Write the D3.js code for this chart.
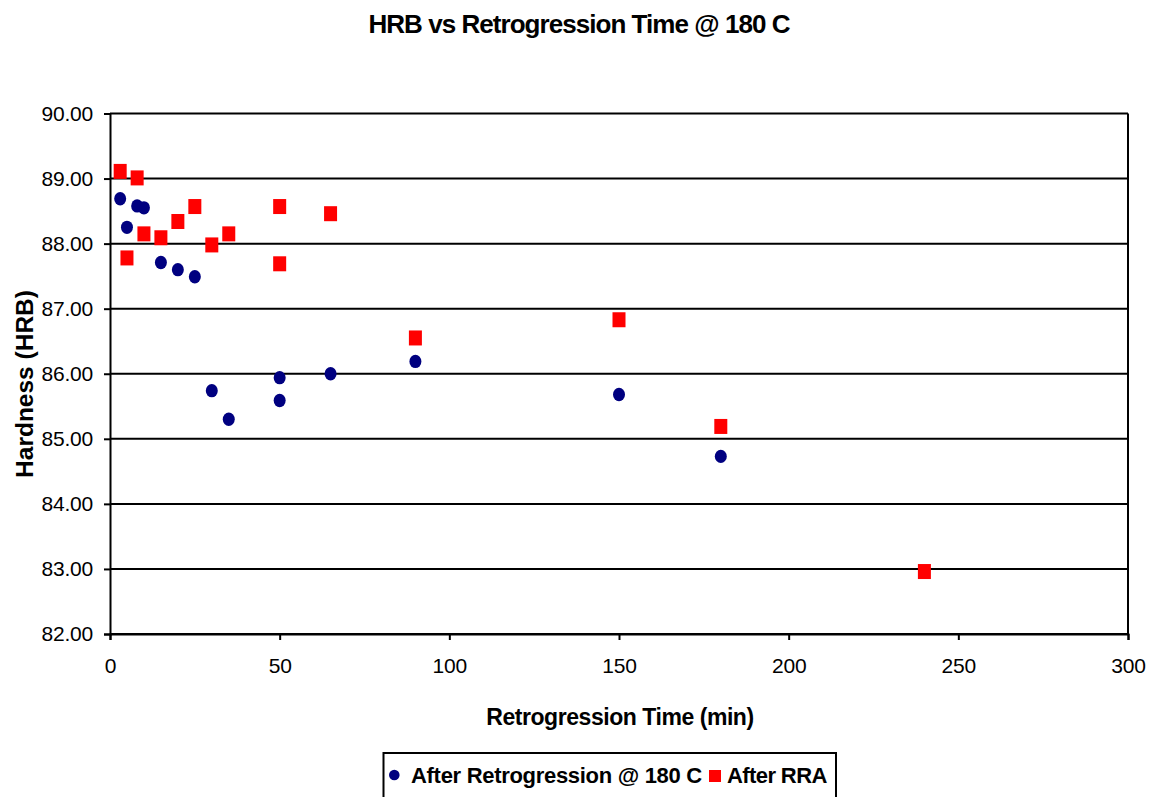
<!DOCTYPE html>
<html>
<head>
<meta charset="utf-8">
<script src="https://cdn.jsdelivr.net/npm/d3@7"></script>
<style>
  html, body { margin: 0; padding: 0; background: #fff; }
  svg { display: block; font-family: Arial, "Liberation Sans", sans-serif; }
</style>
</head>
<body>
<svg id="chart" width="1154" height="797"></svg>
<script>
// ---- data ----
const retroTime = [3, 5, 8, 10, 15, 20, 25, 30, 35, 50, 50, 65, 90, 150, 180];
const retroHRB  = [88.69, 88.25, 88.58, 88.55, 87.71, 87.60, 87.49, 85.74, 85.30, 85.94, 85.59, 86.00, 86.19, 85.68, 84.73];
const rraTime   = [3, 5, 8, 10, 15, 20, 25, 30, 35, 50, 50, 65, 90, 150, 180, 240];
const rraHRB    = [89.11, 87.78, 89.01, 88.15, 88.09, 88.34, 88.57, 87.98, 88.15, 88.57, 87.69, 88.46, 86.55, 86.83, 85.19, 82.96];
const xTicks = [0, 50, 100, 150, 200, 250, 300];
const yTicks = [82, 83, 84, 85, 86, 87, 88, 89, 90];
const seriesNames = ["After Retrogression @ 180 C", "After RRA"];
const titleText = "HRB vs Retrogression Time @ 180 C";
const xTitle = "Retrogression Time (min)";
const yTitle = "Hardness (HRB)";

const svg = d3.select("#chart");
const pLeft = 110, pRight = 1128, pTop = 113.5, pBottom = 634;

const x = d3.scaleLinear().domain([0, 300]).range([pLeft, pRight]);
const y = d3.scaleLinear().domain([82, 90]).range([pBottom, pTop]);

// gridlines
svg.append("g").selectAll("line").data(yTicks).join("line")
  .attr("x1", pLeft).attr("x2", pRight)
  .attr("y1", d => y(d)).attr("y2", d => y(d))
  .attr("stroke", "#000").attr("stroke-width", 2);

// right border
svg.append("line").attr("x1", pRight).attr("x2", pRight).attr("y1", pTop).attr("y2", pBottom)
  .attr("stroke", "#000").attr("stroke-width", 2);

// axes
const xAxis = svg.append("g").attr("transform", `translate(0,${pBottom})`)
  .call(d3.axisBottom(x).tickValues(xTicks).tickSize(6).tickPadding(18).tickFormat(d3.format("d")));
const yAxis = svg.append("g").attr("transform", `translate(${pLeft},0)`)
  .call(d3.axisLeft(y).tickValues(yTicks).tickSize(6).tickPadding(11).tickFormat(d3.format(".2f")));
[xAxis, yAxis].forEach(g => {
  g.select(".domain").attr("stroke", "#000").attr("stroke-width", 2);
  g.selectAll(".tick line").attr("stroke", "#000").attr("stroke-width", 2);
  g.selectAll(".tick text").attr("fill", "#000")
    .style("font-size", "21px").style("letter-spacing", "-0.2px")
    .style("font-family", "Arial, 'Liberation Sans', sans-serif");
});

// points
svg.append("g").selectAll("ellipse").data(retroTime.map((t, i) => [t, retroHRB[i]])).join("ellipse")
  .attr("cx", d => x(d[0])).attr("cy", d => y(d[1]))
  .attr("rx", 6).attr("ry", 6.7).attr("fill", "#000080");

svg.append("g").selectAll("rect").data(rraTime.map((t, i) => [t, rraHRB[i]])).join("rect")
  .attr("x", d => x(d[0]) - 6.5).attr("y", d => y(d[1]) - 7.5)
  .attr("width", 13).attr("height", 15).attr("fill", "#ff0000");

// titles
svg.append("text").attr("x", 579).attr("y", 33).attr("text-anchor", "middle")
  .style("font-weight", "bold").style("font-size", "26px").style("letter-spacing", "-0.95px")
  .text(titleText);
svg.append("text").attr("x", 620).attr("y", 725).attr("text-anchor", "middle")
  .style("font-weight", "bold").style("font-size", "23px").style("letter-spacing", "-0.45px")
  .text(xTitle);
svg.append("text").attr("transform", "translate(33,384) rotate(-90)").attr("text-anchor", "middle")
  .style("font-weight", "bold").style("font-size", "24.5px").style("letter-spacing", "0px")
  .text(yTitle);

// legend
const lg = svg.append("g");
lg.append("rect").attr("x", 383.5).attr("y", 753).attr("width", 452.5).attr("height", 60)
  .attr("fill", "#fff").attr("stroke", "#000").attr("stroke-width", 2);
lg.append("circle").attr("cx", 394.3).attr("cy", 775).attr("r", 5.3).attr("fill", "#000080");
lg.append("text").attr("x", 411).attr("y", 783).style("font-weight", "bold")
  .style("font-size", "22px").style("letter-spacing", "-0.3px").text(seriesNames[0]);
lg.append("rect").attr("x", 709).attr("y", 770).attr("width", 12).attr("height", 12).attr("fill", "#ff0000");
lg.append("text").attr("x", 727).attr("y", 783).style("font-weight", "bold")
  .style("font-size", "22px").style("letter-spacing", "-0.6px").text(seriesNames[1]);
</script>
</body>
</html>
